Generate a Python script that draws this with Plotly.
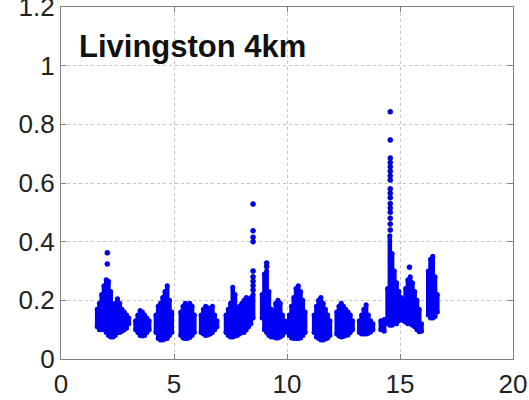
import plotly.graph_objects as go

# Vertical extent of the point cloud at each range step: x, lowest and highest value
col_x = [
    1.6, 1.7, 1.8, 1.9, 2.0, 2.1, 2.2, 2.3, 2.4, 2.5, 2.6, 2.7, 2.8, 2.9, 3.0,
    3.3, 3.4, 3.5, 3.6, 3.7, 3.8, 3.9,
    4.2, 4.3, 4.4, 4.5, 4.6, 4.7, 4.8, 4.9,
    5.3, 5.4, 5.5, 5.6, 5.7, 5.8, 5.9,
    6.2, 6.3, 6.4, 6.5, 6.6, 6.7, 6.8, 6.9,
    7.3, 7.4, 7.5, 7.6, 7.7, 7.8, 7.9, 8.0, 8.1, 8.2, 8.3, 8.4, 8.5,
    8.9, 9.0, 9.1, 9.2, 9.3, 9.4, 9.5, 9.6, 9.7, 9.8, 9.9,
    10.1, 10.2, 10.3, 10.4, 10.5, 10.6, 10.7, 10.8,
    11.2, 11.3, 11.4, 11.5, 11.6, 11.7, 11.8, 11.9,
    12.2, 12.3, 12.4, 12.5, 12.6, 12.7, 12.8, 12.9,
    13.2, 13.3, 13.4, 13.5, 13.6, 13.7, 13.8,
    14.15, 14.3,
    14.45, 14.55, 14.65, 14.75, 14.85, 14.95, 15.05,
    15.15, 15.25, 15.35, 15.45, 15.55, 15.65, 15.75, 15.85, 15.95,
    16.25, 16.35, 16.45, 16.55, 16.65,
]
col_lo = [
    0.11, 0.10, 0.10, 0.10, 0.09, 0.08, 0.075, 0.075, 0.08, 0.09, 0.09, 0.095, 0.10, 0.105, 0.12,
    0.10, 0.09, 0.08, 0.078, 0.08, 0.09, 0.10,
    0.09, 0.07, 0.065, 0.065, 0.068, 0.07, 0.08, 0.09,
    0.08, 0.072, 0.07, 0.07, 0.073, 0.08, 0.09,
    0.09, 0.085, 0.08, 0.082, 0.085, 0.09, 0.10, 0.11,
    0.09, 0.08, 0.075, 0.075, 0.078, 0.08, 0.085, 0.09, 0.09, 0.10, 0.11, 0.12, 0.14,
    0.14, 0.10, 0.09, 0.08, 0.075, 0.075, 0.072, 0.072, 0.075, 0.08, 0.09,
    0.08, 0.072, 0.07, 0.07, 0.07, 0.072, 0.08, 0.09,
    0.09, 0.075, 0.07, 0.065, 0.065, 0.068, 0.072, 0.08,
    0.085, 0.078, 0.075, 0.077, 0.08, 0.082, 0.09, 0.10,
    0.09, 0.085, 0.085, 0.085, 0.088, 0.092, 0.10,
    0.10, 0.095,
    0.12, 0.115, 0.115, 0.12, 0.12, 0.13, 0.14,
    0.13, 0.125, 0.12, 0.12, 0.115, 0.11, 0.10, 0.093, 0.095,
    0.15, 0.14, 0.14, 0.145, 0.16,
]
col_hi = [
    0.17, 0.19, 0.22, 0.25, 0.27, 0.265, 0.23, 0.17, 0.19, 0.205, 0.19, 0.17, 0.16, 0.15, 0.14,
    0.13, 0.15, 0.165, 0.16, 0.15, 0.14, 0.13,
    0.15, 0.18, 0.19, 0.21, 0.23, 0.25, 0.20, 0.16,
    0.16, 0.18, 0.19, 0.18, 0.19, 0.18, 0.15,
    0.15, 0.17, 0.18, 0.175, 0.165, 0.18, 0.15, 0.13,
    0.15, 0.17, 0.19, 0.245, 0.22, 0.17, 0.18, 0.19, 0.20, 0.21, 0.20, 0.21, 0.22,
    0.22, 0.29, 0.30, 0.23, 0.17, 0.16, 0.19, 0.20, 0.19, 0.15, 0.13,
    0.15, 0.18, 0.21, 0.24, 0.25, 0.23, 0.20, 0.16,
    0.15, 0.18, 0.20, 0.21, 0.19, 0.17, 0.15, 0.13,
    0.16, 0.18, 0.19, 0.18, 0.17, 0.16, 0.15, 0.13,
    0.13, 0.15, 0.17, 0.185, 0.15, 0.13, 0.12,
    0.13, 0.135,
    0.24, 0.42, 0.36, 0.30, 0.26, 0.23, 0.21,
    0.20, 0.24, 0.27, 0.28, 0.26, 0.23, 0.20, 0.17, 0.12,
    0.30, 0.34, 0.35, 0.28, 0.22,
]

# Isolated high readings above the clusters
out_x = [2.05, 2.05,
         8.5, 8.5, 8.5, 8.5, 8.5, 8.5, 8.5, 8.5, 8.5,
         9.1, 9.1,
         14.57, 14.57, 14.57, 14.57, 14.57, 14.57, 14.57, 14.57,
         14.57, 14.57, 14.57, 14.57, 14.57, 14.57, 14.57, 14.57, 14.57,
         15.42]
out_y = [0.362, 0.324,
         0.235, 0.25, 0.265, 0.28, 0.30, 0.40, 0.415, 0.437, 0.528,
         0.315, 0.327,
         0.44, 0.46, 0.48, 0.50, 0.515, 0.53, 0.55, 0.565,
         0.58, 0.61, 0.625, 0.64, 0.655, 0.67, 0.685, 0.747, 0.843,
         0.313]

BLUE = "#0000f5"
FONT = "Liberation Sans, Arial, sans-serif"

seg_x, seg_y = [], []
for x, lo, hi in zip(col_x, col_lo, col_hi):
    seg_x += [x, x, None]
    seg_y += [lo, hi, None]

fig = go.Figure()
fig.add_trace(go.Scatter(
    x=seg_x, y=seg_y, mode="lines+markers",
    line=dict(color=BLUE, width=4.5),
    marker=dict(color=BLUE, size=5),
    hoverinfo="skip", showlegend=False,
))
fig.add_trace(go.Scatter(
    x=out_x, y=out_y, mode="markers",
    marker=dict(color=BLUE, size=5, line=dict(color="#00009a", width=0.6)),
    showlegend=False,
))

fig.add_annotation(
    x=0.72, y=1.064, xref="x", yref="y", xanchor="left", yanchor="middle",
    text="<b>Livingston 4km</b>", showarrow=False,
    font=dict(family=FONT, size=31, color="#111"),
)

axis_common = dict(
    showline=True, linecolor="#808080", linewidth=1.3, mirror="ticks",
    ticks="inside", ticklen=5, tickcolor="#808080",
    showgrid=True, gridcolor="#c4c4c4", griddash="dot", gridwidth=1,
    zeroline=False, ticklabeloverflow="allow", automargin=False,
    tickfont=dict(family=FONT, size=26, color="#222"),
)

fig.update_layout(
    width=529, height=400,
    margin=dict(l=61, r=16, t=7, b=41, autoexpand=False),
    paper_bgcolor="white", plot_bgcolor="white",
    xaxis=dict(range=[0, 20], tickvals=[0, 5, 10, 15, 20], ticklabelstandoff=2, **axis_common),
    yaxis=dict(range=[0, 1.2], tickvals=[0, 0.2, 0.4, 0.6, 0.8, 1.0, 1.2],
               ticktext=["0", "0.2", "0.4", "0.6", "0.8", "1", "1.2"], **axis_common),
)

fig.write_html("out.html")
